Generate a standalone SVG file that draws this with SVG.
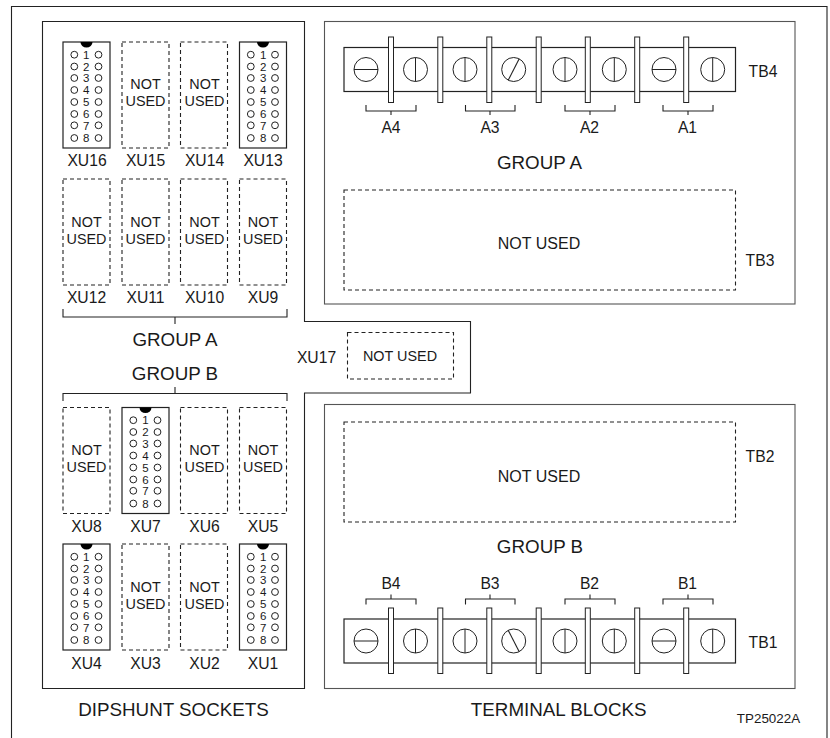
<svg xmlns="http://www.w3.org/2000/svg" width="830" height="738" viewBox="0 0 830 738">
<style>
text{font-family:"Liberation Sans",Arial,sans-serif;fill:#1a1a1a;text-anchor:middle}
.l{font-size:15.7px}.g{font-size:18.8px}.n{font-size:14.4px}.p{font-size:11.5px}.t{font-size:16px}.m{font-size:13.4px}
.s{fill:#fff;stroke:#222;stroke-width:1.2}
.d{fill:none;stroke:#222;stroke-width:1.1;stroke-dasharray:4 3}
.w{fill:none;stroke:#222;stroke-width:1.1}
.b{fill:#fff;stroke:#222;stroke-width:1}
.c{fill:#fff;stroke:#222;stroke-width:1}
</style>
<defs>
<path id="notch" d="M-6 0A6 5.5 0 0 0 6 0Z" fill="#000"/>
<g id="holes" class="c">
<circle cx="-12.2" cy="12.7" r="3.4"/><circle cx="12" cy="12.7" r="3.4"/>
<circle cx="-12.2" cy="24.5" r="3.4"/><circle cx="12" cy="24.5" r="3.4"/>
<circle cx="-12.2" cy="36" r="3.4"/><circle cx="12" cy="36" r="3.4"/>
<circle cx="-12.2" cy="48" r="3.4"/><circle cx="12" cy="48" r="3.4"/>
<circle cx="-12.2" cy="60" r="3.4"/><circle cx="12" cy="60" r="3.4"/>
<circle cx="-12.2" cy="72" r="3.4"/><circle cx="12" cy="72" r="3.4"/>
<circle cx="-12.2" cy="83.3" r="3.4"/><circle cx="12" cy="83.3" r="3.4"/>
<circle cx="-12.2" cy="96" r="3.4"/><circle cx="12" cy="96" r="3.4"/>
</g>
<g id="barriers" class="b">
<rect x="388.5" width="5" height="65.5"/><rect x="437.8" width="5" height="65.5"/><rect x="486.8" width="5" height="65.5"/><rect x="536.2" width="5" height="65.5"/><rect x="585.3" width="5" height="65.5"/><rect x="634.7" width="5" height="65.5"/><rect x="683.7" width="5" height="65.5"/>
</g>
<g id="screws" class="c">
<circle cx="366" r="12"/><circle cx="415.5" r="12"/><circle cx="465" r="12"/><circle cx="513.7" r="12"/><circle cx="565" r="12"/><circle cx="614.3" r="12"/><circle cx="664" r="12"/><circle cx="712.7" r="12"/>
<path d="M354 0H378M415.5 -12V12M465 -12V12M565 -12V12M614.3 -12V12M652 0H676M712.7 -12V12"/>
</g>
</defs>

<g id="connectors" class="w">
<path d="M11.5 745V6.5H827V745"/>
<path d="M42.5 21.5H304.5V321.5H470.5V393H304.5V688.5H42.5Z"/>
<rect x="324.5" y="21.5" width="470.5" height="282.5" stroke="#555"/>
<rect x="324.5" y="404.5" width="470.5" height="284" stroke="#555"/>
<path d="M63 309V317H287V309M175 317V324"/>
<path d="M63 401V393.5H287V401M175 393.5V387"/>
</g>

<g id="XU16"><rect class="s" x="63" y="42" width="47" height="106"/><use href="#notch" x="86.5" y="42"/><use href="#holes" x="86.5" y="42"/>
<g class="p"><text x="86.3" y="59">1</text><text x="86.3" y="70.8">2</text><text x="86.3" y="82.3">3</text><text x="86.3" y="94.3">4</text><text x="86.3" y="106.3">5</text><text x="86.3" y="118.3">6</text><text x="86.3" y="129.6">7</text><text x="86.3" y="142">8</text></g>
<text class="l" x="87" y="165.5">XU16</text></g>

<g id="XU15"><rect class="d" x="122" y="42" width="47" height="106"/><text class="n" x="145.5" y="89">NOT</text><text class="n" x="145.5" y="106">USED</text><text class="l" x="145.5" y="165.5">XU15</text></g>
<g id="XU14"><rect class="d" x="180.5" y="42" width="47" height="106"/><text class="n" x="204.5" y="89">NOT</text><text class="n" x="204.5" y="106">USED</text><text class="l" x="204.5" y="165.5">XU14</text></g>

<g id="XU13"><rect class="s" x="239.5" y="42" width="47" height="106"/><use href="#notch" x="263" y="42"/><use href="#holes" x="263" y="42"/>
<g class="p"><text x="263.3" y="59">1</text><text x="263.3" y="70.8">2</text><text x="263.3" y="82.3">3</text><text x="263.3" y="94.3">4</text><text x="263.3" y="106.3">5</text><text x="263.3" y="118.3">6</text><text x="263.3" y="129.6">7</text><text x="263.3" y="142">8</text></g>
<text class="l" x="263" y="165.5">XU13</text></g>

<g id="XU12"><rect class="d" x="63" y="179" width="47" height="106"/><text class="n" x="86.5" y="226.7">NOT</text><text class="n" x="86.5" y="243.5">USED</text><text class="l" x="86.5" y="303">XU12</text></g>
<g id="XU11"><rect class="d" x="122" y="179" width="47" height="106"/><text class="n" x="145.5" y="226.7">NOT</text><text class="n" x="145.5" y="243.5">USED</text><text class="l" x="145.5" y="303">XU11</text></g>
<g id="XU10"><rect class="d" x="180.5" y="179" width="47" height="106"/><text class="n" x="204.5" y="226.7">NOT</text><text class="n" x="204.5" y="243.5">USED</text><text class="l" x="204.5" y="303">XU10</text></g>
<g id="XU9"><rect class="d" x="239.5" y="179" width="47" height="106"/><text class="n" x="263" y="226.7">NOT</text><text class="n" x="263" y="243.5">USED</text><text class="l" x="263" y="303">XU9</text></g>

<text class="g" x="175" y="346">GROUP A</text>
<text class="g" x="175" y="380">GROUP B</text>

<g id="XU17"><rect class="d" x="347.5" y="332.5" width="106" height="46.5"/><text class="n" x="400" y="361">NOT USED</text><text class="l" x="316.5" y="363">XU17</text></g>

<g id="XU8"><rect class="d" x="63" y="407.5" width="47" height="106"/><text class="n" x="86.5" y="455">NOT</text><text class="n" x="86.5" y="472">USED</text><text class="l" x="86.5" y="532">XU8</text></g>

<g id="XU7"><rect class="s" x="122" y="407.5" width="47" height="106"/><use href="#notch" x="145.5" y="407.5"/><use href="#holes" x="145.5" y="407.5"/>
<g class="p"><text x="145.5" y="424.3">1</text><text x="145.5" y="436.3">2</text><text x="145.5" y="447.8">3</text><text x="145.5" y="459.8">4</text><text x="145.5" y="471.8">5</text><text x="145.5" y="483.8">6</text><text x="145.5" y="495.1">7</text><text x="145.5" y="507.5">8</text></g>
<text class="l" x="145.5" y="532">XU7</text></g>

<g id="XU6"><rect class="d" x="180.5" y="407.5" width="47" height="106"/><text class="n" x="204.5" y="455">NOT</text><text class="n" x="204.5" y="472">USED</text><text class="l" x="204.5" y="532">XU6</text></g>
<g id="XU5"><rect class="d" x="239.5" y="407.5" width="47" height="106"/><text class="n" x="263" y="455">NOT</text><text class="n" x="263" y="472">USED</text><text class="l" x="263" y="532">XU5</text></g>

<g id="XU4"><rect class="s" x="63" y="544" width="47" height="106"/><use href="#notch" x="86.5" y="544"/><use href="#holes" x="86.5" y="544"/>
<g class="p"><text x="86.3" y="561">1</text><text x="86.3" y="572.8">2</text><text x="86.3" y="584.3">3</text><text x="86.3" y="596.3">4</text><text x="86.3" y="608.3">5</text><text x="86.3" y="620.3">6</text><text x="86.3" y="631.6">7</text><text x="86.3" y="644">8</text></g>
<text class="l" x="86.5" y="668.5">XU4</text></g>

<g id="XU3"><rect class="d" x="122" y="544" width="47" height="106"/><text class="n" x="145.5" y="591.7">NOT</text><text class="n" x="145.5" y="609">USED</text><text class="l" x="145.5" y="668.5">XU3</text></g>
<g id="XU2"><rect class="d" x="180.5" y="544" width="47" height="106"/><text class="n" x="204.5" y="591.7">NOT</text><text class="n" x="204.5" y="609">USED</text><text class="l" x="204.5" y="668.5">XU2</text></g>

<g id="XU1"><rect class="s" x="239.5" y="544" width="47" height="106"/><use href="#notch" x="263" y="544"/><use href="#holes" x="263" y="544"/>
<g class="p"><text x="263.3" y="561">1</text><text x="263.3" y="572.8">2</text><text x="263.3" y="584.3">3</text><text x="263.3" y="596.3">4</text><text x="263.3" y="608.3">5</text><text x="263.3" y="620.3">6</text><text x="263.3" y="631.6">7</text><text x="263.3" y="644">8</text></g>
<text class="l" x="263" y="668.5">XU1</text></g>

<g id="TB4"><rect class="s" x="344" y="47.5" width="391.5" height="44"/><use href="#barriers" y="37"/><use href="#screws" y="69.5"/>
<path class="w" d="M519.2 58.8L508.2 80.2"/>
<path class="w" d="M366 105V111H416V105M391 111V115M465.5 105V111H515V105M490 111V115M565 105V111H615V105M590 111V115M663 105V111H713V105M688 111V115"/>
<text class="l" x="391" y="132.5">A4</text><text class="l" x="490" y="132.5">A3</text><text class="l" x="589.5" y="132.5">A2</text><text class="l" x="687.5" y="132.5">A1</text>
<text class="l" x="763" y="76.5">TB4</text></g>

<text class="g" x="539.5" y="169">GROUP A</text>

<g id="TB3"><rect class="d" x="344" y="190" width="391.5" height="100"/><text class="t" x="539" y="249">NOT USED</text><text class="l" x="760" y="266">TB3</text></g>

<g id="TB2"><rect class="d" x="344" y="422" width="391.5" height="100"/><text class="t" x="539" y="482">NOT USED</text><text class="l" x="760" y="461.5">TB2</text></g>

<text class="g" x="540" y="553">GROUP B</text>

<g id="TB1"><rect class="s" x="344" y="619" width="391.5" height="44"/><use href="#barriers" y="608"/><use href="#screws" y="641"/>
<path class="w" d="M508.2 630.3L519.2 651.7"/>
<path class="w" d="M366 604.5V599H416V604.5M391 599V594.5M465.5 604.5V599H515V604.5M490 599V594.5M565 604.5V599H615V604.5M590 599V594.5M663 604.5V599H713V604.5M688 599V594.5"/>
<text class="l" x="391" y="589">B4</text><text class="l" x="490" y="589">B3</text><text class="l" x="589.5" y="589">B2</text><text class="l" x="687.5" y="589">B1</text>
<text class="l" x="763" y="648">TB1</text></g>

<text class="g" x="173.5" y="715.5">DIPSHUNT SOCKETS</text>
<text class="g" x="558.7" y="716">TERMINAL BLOCKS</text>
<text class="m" x="768.5" y="722.5">TP25022A</text>
</svg>
